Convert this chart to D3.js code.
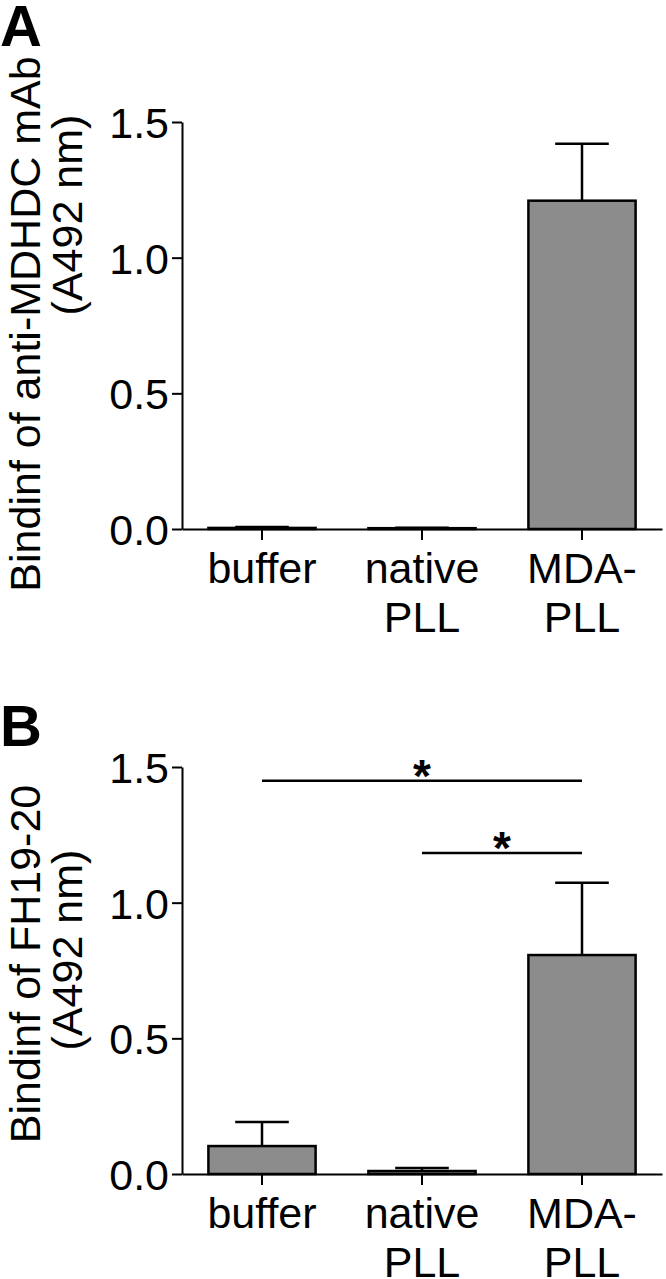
<!DOCTYPE html>
<html>
<head>
<meta charset="utf-8">
<script src="https://cdn.jsdelivr.net/npm/d3@7"></script>
<style>
  html, body { margin: 0; padding: 0; background: #fff; }
  svg { display: block; }
  text { font-family: "Liberation Sans", Arial, sans-serif; fill: #000; }
</style>
</head>
<body>
<svg id="chart" width="666" height="1279"></svg>
<script>
// ---------- data ----------
const categories = ["buffer", "native PLL", "MDA-PLL"];
const categoryLines = [["buffer"], ["native", "PLL"], ["MDA-", "PLL"]];
const yTicks = [0, 0.5, 1.0, 1.5];

const panelALabel = "A";
const panelATitle = ["Bindinf of anti-MDHDC mAb", "(A492 nm)"];
const meansA = [0.004, 0.003, 1.21];
const errorsA = [0.003, 0.002, 0.21];

const panelBLabel = "B";
const panelBTitle = ["Bindinf of FH19-20", "(A492 nm)"];
const meansB = [0.103, 0.011, 0.807];
const errorsB = [0.089, 0.011, 0.266];
// significance: [from category, to category, y value]
const sigFrom = ["buffer", "native PLL"];
const sigTo = ["MDA-PLL", "MDA-PLL"];
const sigLevel = [1.449, 1.183];
const sigMark = ["*", "*"];

// ---------- drawing ----------
const svg = d3.select("#chart");
const FONT = 43;

function panel(cfg) {
  const g = svg.append("g");
  const y = d3.scaleLinear().domain([0, 1.5]).range([cfg.y0, cfg.y0 - 407]);
  const x = d3.scaleBand().domain(categories).range([182, 662])
    .paddingInner(0.33).paddingOuter(0.165);

  // panel letter
  g.append("text").attr("x", 0).attr("y", cfg.letterY)
    .attr("font-size", 58).attr("font-weight", "bold").text(cfg.letter);

  // y-axis title (rotated)
  cfg.title.forEach((t, i) => {
    g.append("text")
      .attr("transform", `translate(${cfg.titleX[i]},${cfg.titleCY[i]}) rotate(-90)`)
      .attr("text-anchor", "middle")
      .attr("font-size", FONT)
      .text(t);
  });

  // bars
  const data = categories.map((c, i) => ({ c, m: cfg.means[i], e: cfg.errors[i] }));
  // error bars
  const eb = g.append("g").attr("stroke", "#000").attr("stroke-width", 2.5).attr("fill", "none");
  data.forEach(d => {
    const cx = x(d.c) + x.bandwidth() / 2;
    const cw = x.bandwidth() / 4;
    eb.append("line").attr("x1", cx).attr("x2", cx).attr("y1", y(d.m)).attr("y2", y(d.m + d.e));
    eb.append("line").attr("x1", cx - cw).attr("x2", cx + cw).attr("y1", y(d.m + d.e)).attr("y2", y(d.m + d.e));
  });
  g.append("g").selectAll("rect").data(data).join("rect")
    .attr("x", d => x(d.c))
    .attr("width", x.bandwidth())
    .attr("y", d => y(d.m))
    .attr("height", d => y(0) - y(d.m))
    .attr("fill", "#8c8c8c")
    .attr("stroke", "#000")
    .attr("stroke-width", 2.5);

  // y axis
  const ya = g.append("g").attr("transform", "translate(182,0)")
    .call(d3.axisLeft(y).tickValues(yTicks).tickFormat(d3.format(".1f"))
      .tickSize(10).tickSizeOuter(0).tickPadding(3));
  ya.selectAll("path,line").attr("stroke", "#000").attr("stroke-width", 2);
  ya.selectAll("text").attr("font-size", FONT).attr("font-family", "Liberation Sans, Arial, sans-serif")
    .attr("dy", "0.36em").attr("fill", "#000");

  // x axis
  const xa = g.append("g").attr("transform", `translate(0,${cfg.y0})`)
    .call(d3.axisBottom(x).tickSize(11).tickSizeOuter(0).tickFormat(""));
  xa.selectAll("path,line").attr("stroke", "#000").attr("stroke-width", 2);

  // category labels
  categories.forEach((c, i) => {
    const t = g.append("text").attr("text-anchor", "middle").attr("font-size", FONT);
    categoryLines[i].forEach((ln, j) => {
      t.append("tspan").attr("x", x(c) + x.bandwidth() / 2)
        .attr("y", cfg.y0 + 54 + j * 49).text(ln);
    });
  });

  // significance
  if (cfg.sig) {
    cfg.sig.from.forEach((f, i) => {
      const x1 = x(f) + x.bandwidth() / 2;
      const x2 = x(cfg.sig.to[i]) + x.bandwidth() / 2;
      const yy = y(cfg.sig.level[i]);
      g.append("line").attr("x1", x1).attr("x2", x2).attr("y1", yy).attr("y2", yy)
        .attr("stroke", "#000").attr("stroke-width", 2.5);
      g.append("text").attr("x", (x1 + x2) / 2).attr("y", yy + 11)
        .attr("text-anchor", "middle").attr("font-size", 46).attr("font-weight", "bold")
        .text(cfg.sig.mark[i]);
    });
  }
}

panel({
  letter: panelALabel, letterY: 46, y0: 529,
  title: panelATitle, titleX: [40, 82], titleCY: [324, 215],
  means: meansA, errors: errorsA
});

panel({
  letter: panelBLabel, letterY: 746, y0: 1174,
  title: panelBTitle, titleX: [40, 82], titleCY: [964, 950],
  means: meansB, errors: errorsB,
  sig: { from: sigFrom, to: sigTo, level: sigLevel, mark: sigMark }
});
</script>
</body>
</html>
